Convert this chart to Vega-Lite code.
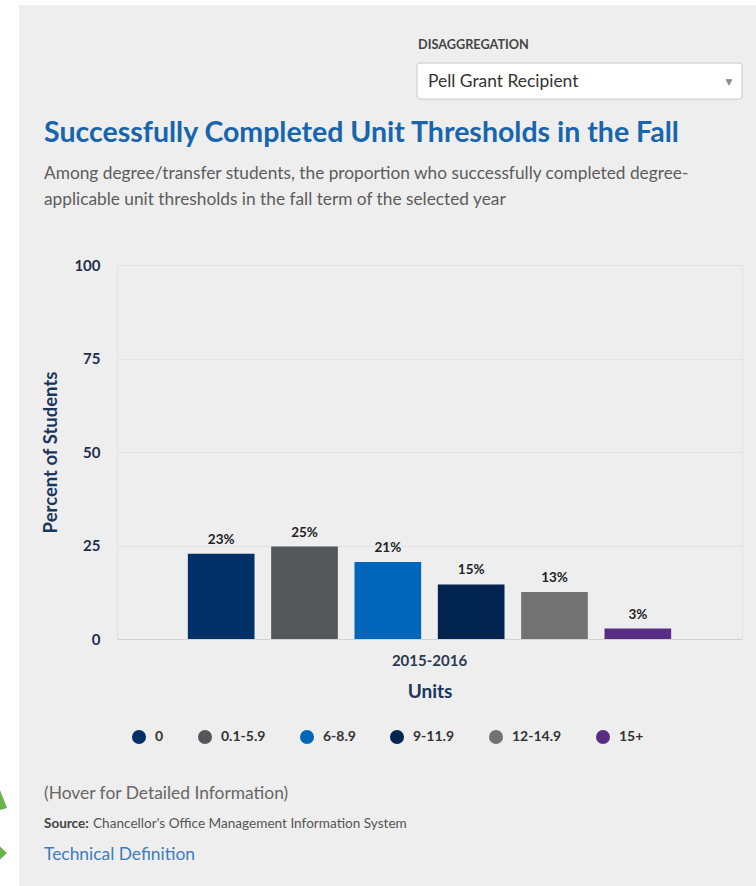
{
  "$schema": "https://vega.github.io/schema/vega-lite/v6.json",
  "width": 625,
  "height": 374,
  "autosize": {"type": "none"},
  "padding": {"left": 117, "top": 265, "right": 14, "bottom": 247},
  "background": "#eeeeee",
  "config": {
    "font": "Lato",
    "view": {"stroke": "#e3e3e3", "strokeWidth": 1}
  },
  "datasets": {
    "units": [
      {"year": "2015-2016", "unit": "0", "pct": 22.8},
      {"year": "2015-2016", "unit": "0.1-5.9", "pct": 24.7},
      {"year": "2015-2016", "unit": "6-8.9", "pct": 20.6},
      {"year": "2015-2016", "unit": "9-11.9", "pct": 14.6},
      {"year": "2015-2016", "unit": "12-14.9", "pct": 12.6},
      {"year": "2015-2016", "unit": "15+", "pct": 2.8}
    ],
    "one": [{}]
  },
  "layer": [
    {
      "data": {"name": "one"},
      "mark": {"type": "rect", "fill": "#ffffff"},
      "encoding": {"x": {"value": -117}, "x2": {"value": -98}, "y": {"value": -265}, "y2": {"value": 621}}
    },
    {
      "data": {"name": "one"},
      "mark": {"type": "rect", "fill": "#ffffff"},
      "encoding": {"x": {"value": -117}, "x2": {"value": 639}, "y": {"value": -265}, "y2": {"value": -260}}
    },
    {
      "data": {"name": "units"},
      "mark": {"type": "bar"},
      "encoding": {
        "x": {
          "field": "year", "type": "nominal",
          "scale": {"paddingInner": 0, "paddingOuter": 0.125},
          "axis": {
            "title": "Units", "labelAngle": 0, "ticks": false,
            "labelFont": "Lato", "labelFontSize": 15, "labelFontWeight": "bold", "labelColor": "#2a3a50", "labelPadding": 14,
            "titleFont": "Lato", "titleFontSize": 19, "titleFontWeight": "bold", "titleColor": "#1b365d", "titlePadding": 14,
            "domainColor": "#d2d2d2", "grid": false
          }
        },
        "xOffset": {
          "field": "unit", "type": "nominal",
          "scale": {"domain": ["0", "0.1-5.9", "6-8.9", "9-11.9", "12-14.9", "15+"], "paddingInner": 0.2, "paddingOuter": 0.1}
        },
        "y": {
          "field": "pct", "type": "quantitative",
          "scale": {"domain": [0, 100], "nice": false},
          "axis": {
            "title": "Percent of Students", "values": [0, 25, 50, 75, 100], "ticks": false, "domain": false,
            "gridColor": "#e2e2e2",
            "labelFont": "Lato", "labelFontSize": 15, "labelFontWeight": "bold", "labelColor": "#1c2f4f", "labelPadding": 17,
            "titleFont": "Lato", "titleFontSize": 18.5, "titleFontWeight": "bold", "titleColor": "#1b365d", "titlePadding": 13
          }
        },
        "color": {
          "field": "unit", "type": "nominal",
          "scale": {
            "domain": ["0", "0.1-5.9", "6-8.9", "9-11.9", "12-14.9", "15+"],
            "range": ["#012f67", "#545659", "#0066b9", "#00234f", "#727272", "#5a2d84"]
          },
          "legend": {
            "title": null, "orient": "none", "direction": "horizontal",
            "legendX": 15, "legendY": 465, "padding": 0,
            "symbolType": "circle", "symbolSize": 196, "symbolStrokeWidth": 0,
            "labelFont": "Lato", "labelFontSize": 14, "labelFontWeight": "bold", "labelColor": "#333333",
            "labelOffset": 9, "columnPadding": 34
          }
        }
      }
    },
    {
      "data": {"name": "units"},
      "mark": {"type": "text", "baseline": "alphabetic", "dy": -10, "font": "Lato", "fontSize": 13.5, "fontWeight": "bold", "color": "#222222", "text": {"expr": "format(datum.pct, '.0f') + '%'"}},
      "encoding": {
        "x": {"field": "year", "type": "nominal"},
        "xOffset": {"field": "unit", "type": "nominal"},
        "y": {"field": "pct", "type": "quantitative"}
      }
    },
    {
      "data": {"name": "one"},
      "mark": {"type": "text", "text": "Successfully Completed Unit Thresholds in the Fall", "align": "left", "baseline": "middle", "font": "Lato", "fontSize": 28.5, "fontWeight": "bold", "color": "#1765ad"},
      "encoding": {"x": {"value": -73}, "y": {"value": -132}}
    },
    {
      "data": {"name": "one"},
      "mark": {"type": "text", "text": "Among degree/transfer students, the proportion who successfully completed degree-", "align": "left", "baseline": "middle", "font": "Lato", "fontSize": 17.3, "color": "#5c5c5c"},
      "encoding": {"x": {"value": -73}, "y": {"value": -91}}
    },
    {
      "data": {"name": "one"},
      "mark": {"type": "text", "text": "applicable unit thresholds in the fall term of the selected year", "align": "left", "baseline": "middle", "font": "Lato", "fontSize": 17.3, "color": "#5c5c5c"},
      "encoding": {"x": {"value": -73}, "y": {"value": -65}}
    },
    {
      "data": {"name": "one"},
      "mark": {"type": "text", "text": "DISAGGREGATION", "align": "left", "baseline": "middle", "font": "Lato", "fontSize": 12.7, "fontWeight": "bold", "color": "#454545"},
      "encoding": {"x": {"value": 301}, "y": {"value": -220}}
    },
    {
      "data": {"name": "one"},
      "mark": {"type": "rect", "fill": "#ffffff", "stroke": "#c8c8c8", "strokeWidth": 1, "cornerRadius": 3},
      "encoding": {"x": {"value": 300}, "x2": {"value": 625}, "y": {"value": -202}, "y2": {"value": -166}}
    },
    {
      "data": {"name": "one"},
      "mark": {"type": "text", "text": "Pell Grant Recipient", "align": "left", "baseline": "middle", "font": "Lato", "fontSize": 17.4, "color": "#333333"},
      "encoding": {"x": {"value": 311}, "y": {"value": -183}}
    },
    {
      "data": {"name": "one"},
      "mark": {"type": "text", "text": "▼", "align": "center", "baseline": "middle", "font": "DejaVu Sans", "fontSize": 9, "color": "#8a8a8a"},
      "encoding": {"x": {"value": 612}, "y": {"value": -183}}
    },
    {
      "data": {"name": "one"},
      "mark": {"type": "text", "text": "(Hover for Detailed Information)", "align": "left", "baseline": "middle", "font": "Lato", "fontSize": 17.4, "color": "#666666"},
      "encoding": {"x": {"value": -73}, "y": {"value": 529}}
    },
    {
      "data": {"name": "one"},
      "mark": {"type": "text", "text": "Source:", "align": "left", "baseline": "middle", "font": "Lato", "fontSize": 13.5, "fontWeight": "bold", "color": "#444444"},
      "encoding": {"x": {"value": -73}, "y": {"value": 559}}
    },
    {
      "data": {"name": "one"},
      "mark": {"type": "text", "text": "Chancellor's Office Management Information System", "align": "left", "baseline": "middle", "font": "Lato", "fontSize": 13.6, "color": "#555555"},
      "encoding": {"x": {"value": -24}, "y": {"value": 559}}
    },
    {
      "data": {"name": "one"},
      "mark": {"type": "text", "text": "Technical Definition", "align": "left", "baseline": "middle", "font": "Lato", "fontSize": 17.4, "color": "#3b7dc0"},
      "encoding": {"x": {"value": -73}, "y": {"value": 590}}
    },
    {
      "data": {"name": "one"},
      "mark": {"type": "point", "filled": true, "color": "#6bb24a", "opacity": 1, "shape": "M-0.35,-1L0.35,0.8L-0.35,1Z", "size": 400},
      "encoding": {"x": {"value": -113.5}, "y": {"value": 535}}
    },
    {
      "data": {"name": "one"},
      "mark": {"type": "point", "filled": true, "color": "#6bb24a", "opacity": 1, "shape": "M-0.54,-1L0.54,0L-0.54,1Z", "size": 169},
      "encoding": {"x": {"value": -113.5}, "y": {"value": 588}}
    }
  ]
}
